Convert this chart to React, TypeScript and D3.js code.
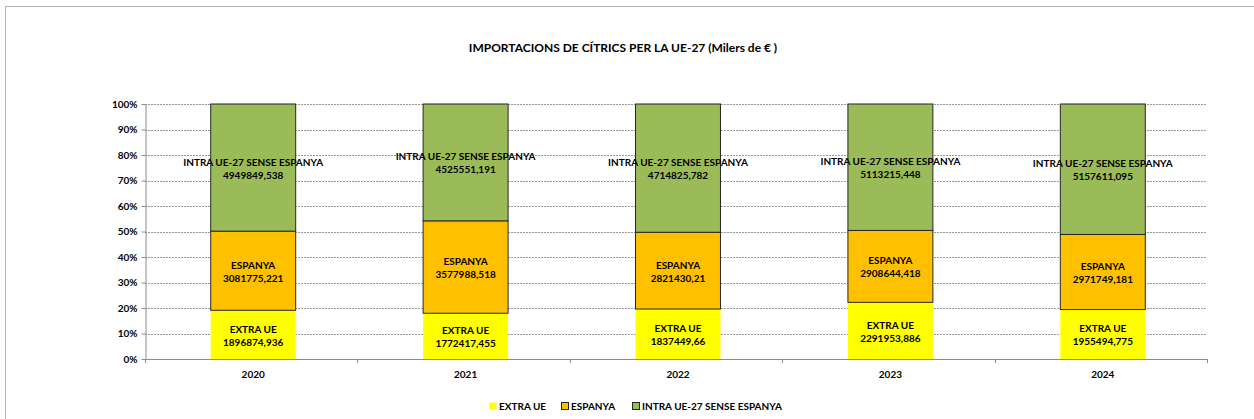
import React, { useEffect, useRef } from 'react';
import * as d3 from 'd3';

const years = ['2020', '2021', '2022', '2023', '2024'];
const extraUE = [1896874.936, 1772417.455, 1837449.66, 2291953.886, 1955494.775];
const espanya = [3081775.221, 3577988.518, 2821430.21, 2908644.418, 2971749.181];
const intraUE = [4949849.538, 4525551.191, 4714825.782, 5113215.448, 5157611.095];
const valueLabels = {
  extra: ['1896874,936', '1772417,455', '1837449,66', '2291953,886', '1955494,775'],
  esp: ['3081775,221', '3577988,518', '2821430,21', '2908644,418', '2971749,181'],
  intra: ['4949849,538', '4525551,191', '4714825,782', '5113215,448', '5157611,095'],
};
const seriesNames = ['EXTRA UE', 'ESPANYA', 'INTRA UE-27 SENSE ESPANYA'];
const colors = ['#ffff00', '#ffc000', '#9bbb59'];
const yTicks = [0, 0.1, 0.2, 0.3, 0.4, 0.5, 0.6, 0.7, 0.8, 0.9, 1];
const FONT = 'Lato, "Open Sans", sans-serif';

export default function App() {
  const svgRef = useRef(null);
  const width = 1254;
  const height = 419;

  useEffect(() => {
    const svg = d3.select(svgRef.current);
    svg.selectAll('*').remove();

    const margin = { top: 104, left: 145, right: 47, bottom: 60 };
    const plotBottom = height - margin.bottom;

    // outer chart frame
    svg.append('rect')
      .attr('x', 5.5).attr('y', 6.5)
      .attr('width', 1300).attr('height', 500)
      .attr('fill', 'white')
      .attr('stroke', '#b4b4b4');

    svg.append('text')
      .attr('x', 623).attr('y', 52)
      .attr('text-anchor', 'middle')
      .attr('font-family', FONT).attr('font-weight', 700).attr('font-size', 12)
      .text('IMPORTACIONS DE CÍTRICS PER LA UE-27 (Milers de € )');

    // bars sit a couple of px right of the category centre, as in the source
    const x = d3.scaleBand()
      .domain(years)
      .range([margin.left + 2, width - margin.right + 2])
      .paddingInner(0.6)
      .paddingOuter(0.3);

    const y = d3.scaleLinear().domain([0, 1]).range([plotBottom, margin.top]);

    // gridlines
    svg.append('g')
      .selectAll('line')
      .data(yTicks.slice(1))
      .join('line')
      .attr('x1', margin.left).attr('x2', width - margin.right)
      .attr('y1', (d) => Math.round(y(d)) + 0.5).attr('y2', (d) => Math.round(y(d)) + 0.5)
      .attr('stroke', '#9a9a9a').attr('stroke-dasharray', '2,1');

    const rows = years.map((yr, i) => {
      const total = extraUE[i] + espanya[i] + intraUE[i];
      return { year: yr, extra: extraUE[i] / total, esp: espanya[i] / total, intra: intraUE[i] / total, i };
    });
    const stack = d3.stack().keys(['extra', 'esp', 'intra'])(rows);
    const labelKeys = ['extra', 'esp', 'intra'];

    stack.forEach((layer, k) => {
      const g = svg.append('g');
      g.selectAll('rect')
        .data(layer)
        .join('rect')
        .attr('x', (d) => x(d.data.year))
        .attr('width', x.bandwidth())
        .attr('y', (d) => y(d[1]))
        .attr('height', (d) => y(d[0]) - y(d[1]))
        .attr('fill', colors[k])
        .attr('stroke', k === 0 ? 'none' : '#262626')
        .attr('stroke-width', 1);
    });

    stack.forEach((layer, k) => {
      const g = svg.append('g')
        .attr('font-family', FONT).attr('font-weight', 700).attr('font-size', 10)
        .attr('text-anchor', 'middle').attr('fill', '#000');
      const t = g.selectAll('text')
        .data(layer)
        .join('text')
        .attr('x', (d) => x(d.data.year) + x.bandwidth() / 2)
        .attr('y', (d) => (y(d[0]) + y(d[1])) / 2 - 2);
      t.append('tspan').attr('x', (d) => x(d.data.year) + x.bandwidth() / 2).attr('dy', 0).text(seriesNames[k]);
      t.append('tspan').attr('x', (d) => x(d.data.year) + x.bandwidth() / 2).attr('dy', 13)
        .text((d) => valueLabels[labelKeys[k]][d.data.i]);
    });

    // y axis
    const yAxis = svg.append('g')
      .attr('transform', `translate(${margin.left + 0.5},0)`)
      .call(d3.axisLeft(y).tickValues(yTicks).tickFormat(d3.format('.0%')).tickSize(4).tickSizeOuter(0));
    yAxis.select('.domain').attr('stroke', '#8c8c8c');
    yAxis.selectAll('.tick line').attr('stroke', '#8c8c8c');
    yAxis.selectAll('text')
      .attr('font-family', FONT).attr('font-weight', 700).attr('font-size', 10)
      .attr('fill', '#000').attr('x', -8);

    // x axis
    const step = x.step();
    const bounds = d3.range(years.length + 1).map((i) => margin.left + i * step);
    svg.append('line')
      .attr('x1', margin.left).attr('x2', width - margin.right)
      .attr('y1', plotBottom + 0.5).attr('y2', plotBottom + 0.5)
      .attr('stroke', '#8c8c8c');
    svg.append('g')
      .selectAll('text')
      .data(years)
      .join('text')
      .attr('x', (d, i) => (bounds[i] + bounds[i + 1]) / 2 + 2)
      .attr('y', plotBottom + 19)
      .attr('text-anchor', 'middle')
      .attr('font-family', FONT).attr('font-weight', 700).attr('font-size', 10)
      .text((d) => d);
    svg.append('g')
      .selectAll('line')
      .data(bounds)
      .join('line')
      .attr('x1', (d) => Math.round(d) + 0.5).attr('x2', (d) => Math.round(d) + 0.5)
      .attr('y1', plotBottom).attr('y2', plotBottom + 4)
      .attr('stroke', '#8c8c8c');

    // legend
    const legendX = [489, 561, 632];
    const legend = svg.append('g');
    seriesNames.forEach((name, k) => {
      legend.append('rect')
        .attr('x', legendX[k] + 0.5).attr('y', 402.5)
        .attr('width', 7).attr('height', 7)
        .attr('fill', colors[k])
        .attr('stroke', k === 0 ? 'none' : '#262626');
      legend.append('text')
        .attr('x', legendX[k] + 10).attr('y', 410)
        .attr('font-family', FONT).attr('font-weight', 700).attr('font-size', 10)
        .text(name);
    });
  }, []);

  return (
    <svg
      ref={svgRef}
      width={width}
      height={height}
      style={{ position: 'absolute', left: 0, top: 0, display: 'block' }}
    />
  );
}
